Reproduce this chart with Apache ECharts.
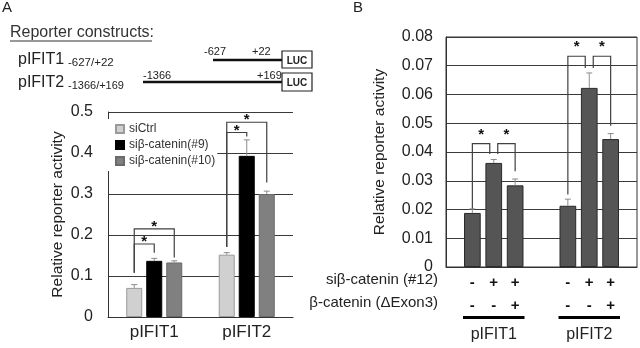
<!DOCTYPE html>
<html><head><meta charset="utf-8">
<script src="https://cdn.jsdelivr.net/npm/echarts@6/dist/echarts.min.js"></script>
<style>html,body{margin:0;padding:0;background:#fff}#c{width:640px;height:348px}</style>
</head><body><div id="c"></div>
<script>
// ---------- Panel A data ----------
const catA = ['pIFIT1', 'pIFIT2'];
const namesA = ['siCtrl', 'siβ-catenin(#9)', 'siβ-catenin(#10)'];
const siCtrl = [0.071, 0.152];
const siCat9 = [0.137, 0.393];
const siCat10 = [0.133, 0.300];
const errCtrl = [0.008, 0.005];
const errCat9 = [0.006, 0.039];
const errCat10 = [0.004, 0.007];
// brackets: [category, barFrom, barTo, top, legFromEnd, legToEnd]
const bracketsA = [
  [0, 0, 1, 0.178, 0.108, 0.157],
  [0, 0, 2, 0.215, 0.108, 0.145],
  [1, 0, 1, 0.450, 0.171, 0.440],
  [1, 0, 2, 0.475, 0.171, 0.328]
];
// ---------- Panel B data ----------
const catB = ['pIFIT1', 'pIFIT2'];
const actB1 = [0.0188, 0.0213];
const actB2 = [0.0362, 0.0623];
const actB3 = [0.0284, 0.0445];
const errB1 = [0.0014, 0.0023];
const errB2 = [0.0012, 0.0052];
const errB3 = [0.0022, 0.0019];
const siB = ['-', '+', '+'];
const exonB = ['-', '-', '+'];
const bracketsB = [
  [0, 0, 1, 0.0429, 0.0203, 0.0393],
  [0, 1, 2, 0.0429, 0.0393, 0.0333],
  [1, 0, 1, 0.0733, 0.0252, 0.0692],
  [1, 1, 2, 0.0733, 0.0692, 0.0491]
];

const FONT = 'Liberation Sans, Arial, Helvetica, sans-serif';
const BW_A = 0.173, GAP_A = 0.25;
const BW_B = 0.175, GAP_B = 0.28;
const offA = k => (k - 1) * BW_A * (1 + GAP_A);
const offB = k => (k - 1) * BW_B * (1 + GAP_B);
const AX = '#333';

function errData(vals, errs, s) { return vals.map((v, i) => [i, v, errs[i], s]); }

function errRender(off) {
  return function (params, api) {
    const i = api.value(0), v = api.value(1), e = api.value(2), s = api.value(3);
    const bw = api.size([1, 0])[0];
    const b = api.coord([i, v]), t = api.coord([i, v + e]);
    const x = b[0] + off(s) * bw;
    const st = { stroke: '#8c8c8c', lineWidth: 1 };
    return { type: 'group', children: [
      { type: 'line', shape: { x1: x, y1: b[1], x2: x, y2: t[1] }, style: st },
      { type: 'line', shape: { x1: x - 3, y1: t[1], x2: x + 3, y2: t[1] }, style: st }
    ]};
  };
}

function bracketRender(off, shiftMid, starDy) {
  return function (params, api) {
    const c = api.value(0), f = api.value(1), to = api.value(2);
    const top = api.value(3), l1 = api.value(4), l2 = api.value(5);
    const bw = api.size([1, 0])[0];
    const cx = api.coord([c, 0])[0];
    let x1 = cx + off(f) * bw, x2 = cx + off(to) * bw;
    if (shiftMid) { if (f === 1) x1 += 4; if (to === 1) x2 -= 4; }
    const yt = api.coord([c, top])[1];
    const y1 = api.coord([c, l1])[1], y2 = api.coord([c, l2])[1];
    return { type: 'group', children: [
      { type: 'polyline', shape: { points: [[x1, y1], [x1, yt], [x2, yt], [x2, y2]] },
        style: { stroke: '#404040', lineWidth: 1.2, fill: null } },
      { type: 'text', style: { x: (x1 + x2) / 2, y: yt - starDy, text: '*', align: 'center',
        verticalAlign: 'middle', font: 'bold 15px ' + FONT, fill: '#111' } }
    ]};
  };
}

function signRender(params, api) {
  const c = api.value(0), k = api.value(1);
  const bw = api.size([1, 0])[0];
  const p0 = api.coord([c, 0]);
  const x = p0[0] + offB(k) * bw;
  const children = [
    { type: 'text', style: { x: x, y: p0[1] + 16, text: siB[k], align: 'center', verticalAlign: 'middle', font: 'bold 15px ' + FONT, fill: '#111' } },
    { type: 'text', style: { x: x, y: p0[1] + 39, text: exonB[k], align: 'center', verticalAlign: 'middle', font: 'bold 15px ' + FONT, fill: '#111' } }
  ];
  if (k === 1) {
    const xl = p0[0] + offB(0) * bw - BW_B * bw / 2 - 1;
    const xr = p0[0] + offB(2) * bw + BW_B * bw / 2 + 1;
    children.push({ type: 'line', shape: { x1: xl, y1: p0[1] + 50.5, x2: xr, y2: p0[1] + 50.5 }, style: { stroke: '#000', lineWidth: 3 } });
  }
  return { type: 'group', children: children };
}

const signData = [];
catB.forEach((_, c) => siB.forEach((_, k) => signData.push([c, k])));

const chart = echarts.init(document.getElementById('c'), null, { renderer: 'canvas' });
const tx = (x, y, text, size, opts) => Object.assign({ type: 'text', x: x, y: y,
  style: Object.assign({ text: text, font: size + 'px ' + FONT, fill: '#222', verticalAlign: 'middle' }, opts || {}) });

chart.setOption({
  animation: false,
  textStyle: { fontFamily: FONT },
  grid: [
    { left: 108, top: 112, width: 185, height: 205 },
    { left: 446, top: 37, width: 191, height: 230, show: true, borderColor: AX, borderWidth: 1, backgroundColor: 'transparent' }
  ],
  legend: {
    data: namesA, orient: 'vertical', left: 108, top: 119, itemWidth: 8, itemHeight: 8, itemGap: 4,
    icon: 'rect', backgroundColor: '#fff', padding: [4, 2, 4, 7],
    textStyle: { fontSize: 12, color: '#333', fontFamily: FONT }
  },
  xAxis: [
    { type: 'category', gridIndex: 0, data: catA, axisTick: { show: false },
      axisLine: { lineStyle: { color: AX } },
      axisLabel: { fontSize: 17, color: '#222', margin: 7, fontFamily: FONT } },
    { type: 'category', gridIndex: 1, data: catB, axisTick: { show: false },
      axisLine: { lineStyle: { color: AX } },
      axisLabel: { fontSize: 16, color: '#222', margin: 60, fontFamily: FONT } }
  ],
  yAxis: [
    { type: 'value', gridIndex: 0, min: 0, max: 0.5, interval: 0.1,
      axisLine: { show: true, lineStyle: { color: AX } }, axisTick: { show: false },
      splitLine: { lineStyle: { color: '#3a3a3a' } },
      axisLabel: { fontSize: 16, color: '#222', margin: 15, fontFamily: FONT },
      name: 'Relative reporter activity', nameLocation: 'middle', nameGap: 42,
      nameTextStyle: { fontSize: 15.5, color: '#222', fontFamily: FONT } },
    { type: 'value', gridIndex: 1, min: 0, max: 0.08, interval: 0.01,
      axisLine: { show: true, lineStyle: { color: AX } }, axisTick: { show: false },
      splitLine: { lineStyle: { color: '#3a3a3a' } },
      axisLabel: { fontSize: 16, color: '#222', margin: 13, fontFamily: FONT },
      name: 'Relative reporter activity', nameLocation: 'middle', nameGap: 58,
      nameTextStyle: { fontSize: 15.5, color: '#222', fontFamily: FONT } }
  ],
  series: [
    { name: namesA[0], type: 'bar', xAxisIndex: 0, yAxisIndex: 0, data: siCtrl, barWidth: (BW_A * 100) + '%', barGap: (GAP_A * 100) + '%',
      itemStyle: { color: '#d0d0d0', borderColor: '#9a9a9a', borderWidth: 1 } },
    { name: namesA[1], type: 'bar', xAxisIndex: 0, yAxisIndex: 0, data: siCat9, barWidth: (BW_A * 100) + '%', barGap: (GAP_A * 100) + '%',
      itemStyle: { color: '#000', borderColor: '#000', borderWidth: 1 } },
    { name: namesA[2], type: 'bar', xAxisIndex: 0, yAxisIndex: 0, data: siCat10, barWidth: (BW_A * 100) + '%', barGap: (GAP_A * 100) + '%',
      itemStyle: { color: '#808080', borderColor: '#6a6a6a', borderWidth: 1 } },
    { type: 'custom', xAxisIndex: 0, yAxisIndex: 0, z: 5, silent: true, renderItem: errRender(offA),
      encode: { x: 0, y: 1 },
      data: [].concat(errData(siCtrl, errCtrl, 0), errData(siCat9, errCat9, 1), errData(siCat10, errCat10, 2)) },
    { type: 'custom', xAxisIndex: 0, yAxisIndex: 0, z: 6, silent: true, renderItem: bracketRender(offA, false, 2),
      encode: { x: 0, y: 3 }, data: bracketsA },

    { name: 'B1', type: 'bar', xAxisIndex: 1, yAxisIndex: 1, data: actB1, barWidth: (BW_B * 100) + '%', barGap: (GAP_B * 100) + '%',
      itemStyle: { color: '#555', borderColor: '#2a2a2a', borderWidth: 1 } },
    { name: 'B2', type: 'bar', xAxisIndex: 1, yAxisIndex: 1, data: actB2, barWidth: (BW_B * 100) + '%', barGap: (GAP_B * 100) + '%',
      itemStyle: { color: '#555', borderColor: '#2a2a2a', borderWidth: 1 } },
    { name: 'B3', type: 'bar', xAxisIndex: 1, yAxisIndex: 1, data: actB3, barWidth: (BW_B * 100) + '%', barGap: (GAP_B * 100) + '%',
      itemStyle: { color: '#555', borderColor: '#2a2a2a', borderWidth: 1 } },
    { type: 'custom', xAxisIndex: 1, yAxisIndex: 1, z: 5, silent: true, renderItem: errRender(offB),
      encode: { x: 0, y: 1 },
      data: [].concat(errData(actB1, errB1, 0), errData(actB2, errB2, 1), errData(actB3, errB3, 2)) },
    { type: 'custom', xAxisIndex: 1, yAxisIndex: 1, z: 6, silent: true, renderItem: bracketRender(offB, true, 9),
      encode: { x: 0, y: 3 }, data: bracketsB },
    { type: 'custom', xAxisIndex: 1, yAxisIndex: 1, z: 6, silent: true, clip: false, renderItem: signRender,
      encode: { x: 0 }, data: signData }
  ],
  graphic: [
    tx(2, 8, 'A', 15),
    tx(353, 8, 'B', 15),
    tx(10, 33, 'Reporter constructs:', 16, { fill: '#333' }),
    { type: 'line', shape: { x1: 10, y1: 41, x2: 152, y2: 41 }, style: { stroke: '#333', lineWidth: 1 } },
    tx(18, 59.5, 'pIFIT1', 16),
    tx(68, 63, '-627/+22', 11.5),
    tx(18, 82.5, 'pIFIT2', 16),
    tx(68, 86, '-1366/+169', 11),
    { type: 'line', shape: { x1: 213, y1: 60, x2: 282, y2: 60 }, style: { stroke: '#111', lineWidth: 2.5 } },
    { type: 'line', shape: { x1: 143, y1: 82, x2: 282, y2: 82 }, style: { stroke: '#111', lineWidth: 2.5 } },
    tx(204, 52, '-627', 11),
    tx(252, 52, '+22', 11),
    tx(143, 76, '-1366', 11),
    tx(257, 76, '+169', 11),
    { type: 'rect', shape: { x: 282, y: 51, width: 30, height: 17 }, style: { stroke: '#222', fill: '#fff', lineWidth: 1.2 } },
    { type: 'rect', shape: { x: 282, y: 73, width: 30, height: 18 }, style: { stroke: '#222', fill: '#fff', lineWidth: 1.2 } },
    tx(297, 61, 'LUC', 10, { align: 'center', font: 'bold 10px ' + FONT }),
    tx(297, 83, 'LUC', 10, { align: 'center', font: 'bold 10px ' + FONT }),
    tx(438, 280, 'siβ-catenin (#12)', 15, { align: 'right' }),
    tx(438, 303, 'β-catenin (ΔExon3)', 15, { align: 'right' })
  ]
});
</script></body></html>
